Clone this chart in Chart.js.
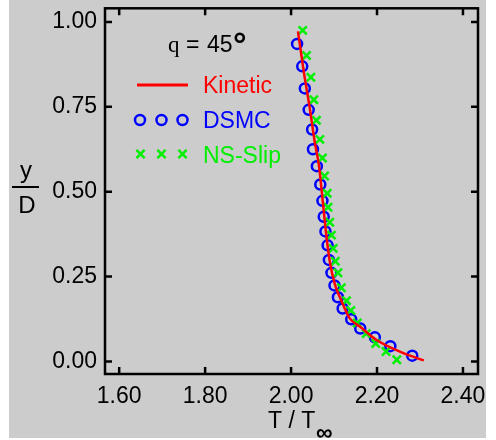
<!DOCTYPE html>
<html>
<head>
<meta charset="utf-8">
<script src="https://cdn.jsdelivr.net/npm/chart.js@4.4.1/dist/chart.umd.min.js"></script>
<style>
  html, body { margin: 0; padding: 0; background: #fff; }
  #wrap { position: relative; width: 496px; height: 440px; }
</style>
</head>
<body>
<div id="wrap"><canvas id="chart" width="496" height="440"></canvas></div>
<script>
// Temperature across the channel (T / T_inf against y / D), theta = 45 deg
const kineticT = [2.016, 2.030, 2.043, 2.055, 2.065, 2.074, 2.082, 2.090, 2.102, 2.117, 2.137, 2.160, 2.199, 2.253, 2.309];
const kineticY = [0.972, 0.850, 0.750, 0.647, 0.575, 0.468, 0.372, 0.295, 0.227, 0.179, 0.126, 0.103, 0.063, 0.029, 0.003];

const dsmcT = [2.014, 2.026, 2.032, 2.041, 2.049, 2.051, 2.060, 2.068, 2.073, 2.076, 2.080, 2.085, 2.088, 2.094, 2.101, 2.109, 2.120, 2.140, 2.161, 2.195, 2.231, 2.282];
const dsmcY = [0.935, 0.869, 0.804, 0.741, 0.683, 0.625, 0.575, 0.521, 0.473, 0.426, 0.383, 0.342, 0.299, 0.261, 0.224, 0.189, 0.156, 0.124, 0.097, 0.071, 0.045, 0.017];

const nsSlipT = [2.027, 2.036, 2.046, 2.053, 2.059, 2.067, 2.073, 2.078, 2.084, 2.086, 2.090, 2.094, 2.098, 2.103, 2.109, 2.117, 2.129, 2.139, 2.154, 2.175, 2.197, 2.221, 2.246];
const nsSlipY = [0.975, 0.901, 0.837, 0.771, 0.710, 0.654, 0.599, 0.546, 0.495, 0.454, 0.410, 0.372, 0.333, 0.295, 0.261, 0.217, 0.179, 0.150, 0.113, 0.082, 0.053, 0.029, 0.005];

const xTicks = [1.6, 1.8, 2.0, 2.2, 2.4];
const yTicks = [0, 0.25, 0.5, 0.75, 1.0];

const FONT = '"Liberation Sans", Arial, sans-serif';
const RED = '#ff0000', BLUE = '#0000ff', GREEN = '#00ee00';

const pts = (xs, ys) => xs.map((x, i) => ({ x, y: ys[i] }));

// legend marker, drawn with the same point styles the datasets use
function marker(ctx, style, radius, color, x, y) {
  ctx.save();
  ctx.strokeStyle = color;
  ctx.fillStyle = 'rgba(0,0,0,0)';
  ctx.lineWidth = 2.5;
  Chart.helpers.drawPoint(ctx, { pointStyle: style, radius, borderWidth: 2.5 }, x, y);
  ctx.restore();
}

// frame with inward ticks, axis titles and the hand-placed legend
const decorations = {
  id: 'decorations',
  beforeDraw(chart) {
    const ctx = chart.ctx;
    ctx.save();
    ctx.fillStyle = '#cccccc';
    ctx.fillRect(9, 0, 477, 438);
    ctx.restore();
  },
  afterDraw(chart) {
    const { ctx, chartArea: a, scales } = chart;
    const tick = 7;
    ctx.save();
    ctx.strokeStyle = '#000';
    ctx.lineWidth = 2.5;
    ctx.strokeRect(a.left, a.top, a.right - a.left, a.bottom - a.top);

    ctx.beginPath();
    xTicks.forEach(v => {
      const px = scales.x.getPixelForValue(v);
      ctx.moveTo(px, a.bottom); ctx.lineTo(px, a.bottom - tick);
      ctx.moveTo(px, a.top); ctx.lineTo(px, a.top + tick);
    });
    yTicks.forEach(v => {
      const py = scales.y.getPixelForValue(v);
      ctx.moveTo(a.left, py); ctx.lineTo(a.left + tick, py);
      ctx.moveTo(a.right, py); ctx.lineTo(a.right - tick, py);
    });
    ctx.stroke();

    ctx.fillStyle = '#000';
    ctx.textBaseline = 'alphabetic';

    // x title: T / T with bold infinity subscript
    ctx.font = '23px ' + FONT;
    ctx.textAlign = 'left';
    ctx.fillText('T / T', 268, 428);
    ctx.font = 'bold 23px ' + FONT;
    ctx.fillText('\u221e', 316, 440);

    // y title as a fraction y over D
    ctx.font = '24px ' + FONT;
    ctx.textAlign = 'center';
    ctx.fillText('y', 26, 178);
    ctx.fillText('D', 27, 213);
    ctx.lineWidth = 2;
    ctx.beginPath();
    ctx.moveTo(12, 187); ctx.lineTo(39, 187);
    ctx.stroke();

    // angle label
    ctx.textAlign = 'left';
    ctx.font = '23px "Liberation Serif", "Times New Roman", serif';
    ctx.fillText('q', 168, 51.7);
    ctx.font = '23px ' + FONT;
    ctx.fillText('=', 186, 51.7);
    ctx.fillText('45', 207, 51.7);
    ctx.font = 'bold 34px ' + FONT;
    ctx.fillText('\u00b0', 233, 56);

    // legend
    ctx.font = '23px ' + FONT;
    ctx.strokeStyle = RED;
    ctx.lineWidth = 3;
    ctx.beginPath();
    ctx.moveTo(137, 85); ctx.lineTo(188, 85);
    ctx.stroke();
    ctx.fillStyle = RED;
    ctx.fillText('Kinetic', 203, 93.3);

    [140, 161.5, 182.5].forEach(x => marker(ctx, 'circle', 5, BLUE, x, 120));
    ctx.fillStyle = BLUE;
    ctx.fillText('DSMC', 203, 128.3);

    [140.5, 161.5, 182.5].forEach(x => marker(ctx, 'crossRot', 5.8, GREEN, x, 154));
    ctx.fillStyle = GREEN;
    ctx.fillText('NS-Slip', 203, 163.3);
    ctx.restore();
  }
};

new Chart(document.getElementById('chart'), {
  type: 'scatter',
  data: {
    datasets: [
      {
        label: 'Kinetic',
        data: pts(kineticT, kineticY),
        showLine: true,
        borderColor: RED,
        borderWidth: 2.5,
        pointRadius: 0,
        cubicInterpolationMode: 'monotone',
        order: 0,
      },
      {
        label: 'NS-Slip',
        data: pts(nsSlipT, nsSlipY),
        pointStyle: 'crossRot',
        pointRadius: 5.8,
        pointBorderWidth: 2.5,
        borderColor: GREEN,
        backgroundColor: GREEN,
        order: 1,
      },
      {
        label: 'DSMC',
        data: pts(dsmcT, dsmcY),
        pointStyle: 'circle',
        pointRadius: 5,
        pointBorderWidth: 2.5,
        borderColor: BLUE,
        backgroundColor: 'rgba(0,0,0,0)',
        order: 2,
      },
    ],
  },
  options: {
    responsive: false,
    animation: false,
    events: [],
    layout: { padding: { left: 0, top: 2, right: 18, bottom: 0 } },
    plugins: { legend: { display: false }, tooltip: { enabled: false } },
    scales: {
      x: {
        type: 'linear',
        min: 1.567,
        max: 2.435,
        grid: { display: false, drawTicks: false },
        border: { display: false },
        afterBuildTicks: s => { s.ticks = xTicks.map(value => ({ value })); },
        afterFit: s => { s.height = 66; s.paddingLeft = 0; s.paddingRight = 0; },
        ticks: {
          color: '#000',
          padding: 9,
          maxRotation: 0,
          font: { family: FONT, size: 23 },
          callback: v => v.toFixed(2),
        },
      },
      y: {
        type: 'linear',
        min: -0.037,
        max: 1.04,
        grid: { display: false, drawTicks: false },
        border: { display: false },
        afterBuildTicks: s => { s.ticks = yTicks.map(value => ({ value })); },
        afterFit: s => { s.width = 105; s.paddingTop = 0; s.paddingBottom = 0; },
        ticks: {
          color: '#000',
          padding: 8,
          font: { family: FONT, size: 23 },
          callback: v => v.toFixed(2),
        },
      },
    },
  },
  plugins: [decorations],
});
</script>
</body>
</html>
